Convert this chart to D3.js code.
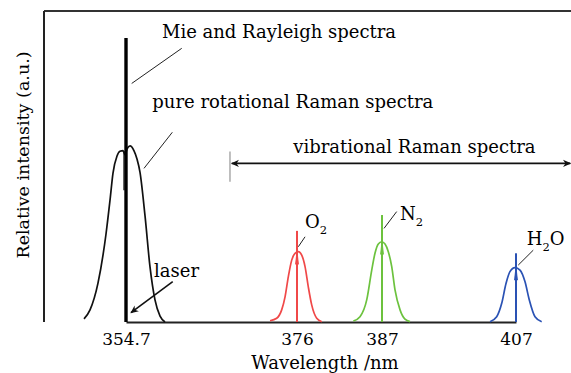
<!DOCTYPE html>
<html><head><meta charset="utf-8">
<script src="https://cdn.jsdelivr.net/npm/d3@7"></script>
<style>
html,body{margin:0;padding:0;background:#fff;}
svg text{font-family:"DejaVu Serif",serif;fill:#000;}
</style></head>
<body><svg id="chart" width="571" height="373"></svg>
<script>
// ---- data ----
const tickValues = [354.7, 376, 387, 407];
const tickLabels = ["354.7", "376", "387", "407"];

const laserWave = 354.7, laserTop = 91.3;

const rotWave = [349.47,350.22,351.21,352.21,352.71,353.08,353.58,353.95,354.33,354.58,354.82,355.20,355.70,356.07,356.44,357.07,357.69,358.31,358.94,359.56];
const rotInt  = [1.0,3.9,12.5,28.3,39.2,47.9,53.4,54.9,55.1,53.7,55.6,56.6,55.0,52.4,48.2,34.1,17.7,7.1,1.9,0];

const o2Wave = [372.64,373.47,374.09,374.51,374.92,375.34,375.75,376.17,376.61,377.04,377.46,377.90,378.55,379.20];
const o2Int  = [0.4,1.2,3.9,8.1,14.6,19.9,22.1,22.6,21.5,17.8,11.3,5.5,1.2,0.1];

const n2Wave = [383.29,384.15,385.02,385.67,386.09,386.52,386.96,387.45,387.94,388.45,388.94,389.69,390.43,391.18];
const n2Int  = [0.3,1.7,7.1,16.7,22.1,25.1,25.8,25.1,22.6,17.8,10.3,3.9,0.9,0.1];

const h2oWave = [403.12,404.12,404.87,405.51,406.10,406.85,407.60,408.34,408.99,409.84,410.84];
const h2oInt  = [0.1,1.7,6.0,12.4,16.2,17.5,16.7,13.0,7.1,1.7,0.1];

const lineWaves = [376, 387, 407];
const lineTops  = [29.3, 34.4, 22.1];
const peakTops  = [22.6, 25.8, 17.5];

// ---- layout ----
const svg = d3.select("#chart");
const W = 571, H = 373;
const m = {left:44, top:11, bottom:51};
const pw = W - m.left, ph = H - m.top - m.bottom;

const x = d3.scaleLinear()
  .domain([354.7, 376, 387, 407])
  .range([pw*0.1556, pw*0.4801, pw*0.6414, pw*0.8956]);
const y = d3.scaleLinear().domain([0, 100]).range([ph, 0]);

const g = svg.append("g").attr("transform", `translate(${m.left},${m.top})`);

const defs = svg.append("defs");
defs.append("marker").attr("id","ah2").attr("viewBox","0 0 10 10")
  .attr("refX",9).attr("refY",5).attr("markerWidth",10).attr("markerHeight",8)
  .attr("markerUnits","userSpaceOnUse").attr("orient","auto-start-reverse")
  .append("path").attr("d","M0,0.5 L10,5 L0,9.5 L3,5 Z").attr("fill","#111");

// frame: top line, left axis, bottom axis
g.append("line").attr("x1",0).attr("x2",pw).attr("y1",0).attr("y2",0)
  .attr("stroke","#333").attr("stroke-width",2);
g.append("line").attr("x1",0).attr("x2",0).attr("y1",0).attr("y2",ph)
  .attr("stroke","#222").attr("stroke-width",2);

const xAxis = d3.axisBottom(x).tickValues(tickValues)
  .tickFormat((d,i)=>tickLabels[i]).tickSize(0).tickPadding(11);
const ax = g.append("g").attr("transform",`translate(0,${ph})`).call(xAxis);
ax.select(".domain").attr("stroke","#222").attr("stroke-width",2);
ax.selectAll("text").attr("font-size",17).attr("font-family","DejaVu Serif").attr("fill","#000");

// axis titles
svg.append("text").attr("x", 325).attr("y", 369).attr("text-anchor","middle")
  .attr("font-size",18).text("Wavelength /nm");
svg.append("text").attr("transform","translate(29,155) rotate(-90)")
  .attr("text-anchor","middle").attr("font-size",17.5).text("Relative intensity (a.u.)");

// curves
const line = d3.line().x(d=>x(d[0])).y(d=>y(d[1])).curve(d3.curveMonotoneX);
const curves = [
  {w:rotWave, v:rotInt, c:"#111"},
  {w:o2Wave, v:o2Int, c:"#f04848"},
  {w:n2Wave, v:n2Int, c:"#6cc23e"},
  {w:h2oWave, v:h2oInt, c:"#2a52b4"}
];
curves.forEach(cv=>{
  g.append("path").datum(cv.w.map((w,i)=>[w,cv.v[i]]))
    .attr("d", line).attr("fill","none").attr("stroke",cv.c).attr("stroke-width",1.7);
});

// vertical lines for vibrational peaks
const colors = ["#f04848","#6cc23e","#2a52b4"];
lineWaves.forEach((w,i)=>{
  g.append("line").attr("x1",x(w)).attr("x2",x(w)).attr("y1",y(0)).attr("y2",y(lineTops[i]))
    .attr("stroke",colors[i]).attr("stroke-width",2);
  g.append("path")
    .attr("d",`M${x(w)-1.5},${y(peakTops[i]-4)} L${x(w)},${y(peakTops[i])} L${x(w)+1.5},${y(peakTops[i]-4)} Z`)
    .attr("fill",colors[i]).attr("stroke",colors[i]).attr("stroke-width",0.8);
});

// thin rotational center mark and laser line
g.append("line").attr("x1",x(354.45)).attr("x2",x(354.45)).attr("y1",y(42.4)).attr("y2",y(55))
  .attr("stroke","#111").attr("stroke-width",1.3);
g.append("line").attr("x1",x(laserWave)).attr("x2",x(laserWave)).attr("y1",y(0)).attr("y2",y(laserTop))
  .attr("stroke","#000").attr("stroke-width",3.4);

// annotations
function txt(w,v,s,size){ return g.append("text").attr("x",x(w)).attr("y",y(v)).attr("font-size",size||18).text(s); }
function seg(w1,v1,w2,v2,col,sw){ return g.append("line").attr("x1",x(w1)).attr("y1",y(v1)).attr("x2",x(w2)).attr("y2",y(v2)).attr("stroke",col||"#222").attr("stroke-width",sw||1); }

txt(359.18, 91.3, "Mie and Rayleigh spectra");
seg(361.64, 88.0, 355.41, 76.7);
txt(357.98, 68.7, "pure rotational Raman spectra");
seg(360.47, 61.0, 356.94, 49.4);
txt(358.19, 14.5, "laser");
seg(360.52, 13.0, 355.32, 3.0, "#111", 1.6).attr("marker-end","url(#ah2)");

txt(375.54, 54.2, "vibrational Raman spectra");
seg(367.87, 51.0, 415.1, 51.0, "#111", 1.6)
  .attr("marker-start","url(#ah2)").attr("marker-end","url(#ah2)");
seg(367.65, 54.8, 367.65, 45.1, "#aaa", 1.5);

// molecule labels with subscripts
function mol(w,v,parts){
  const t = g.append("text").attr("x",x(w)).attr("y",y(v)).attr("font-size",18);
  parts.forEach(p=>{
    const ts = t.append("tspan").text(p.t);
    if(p.sub){ ts.attr("font-size",11.5).attr("dy",6); }
    else if(p.after){ ts.attr("dy",-6); }
  });
}
mol(377.04, 30.1, [{t:"O"},{t:"2",sub:true}]);
seg(377.04, 27.4, 376.17, 24.2);
mol(389.69, 32.8, [{t:"N"},{t:"2",sub:true}]);
seg(389.19, 35.5, 387.30, 30.1);
mol(408.60, 24.8, [{t:"H"},{t:"2",sub:true},{t:"O",after:true}]);
seg(409.58, 23.1, 407.34, 18.3);
</script></body></html>
